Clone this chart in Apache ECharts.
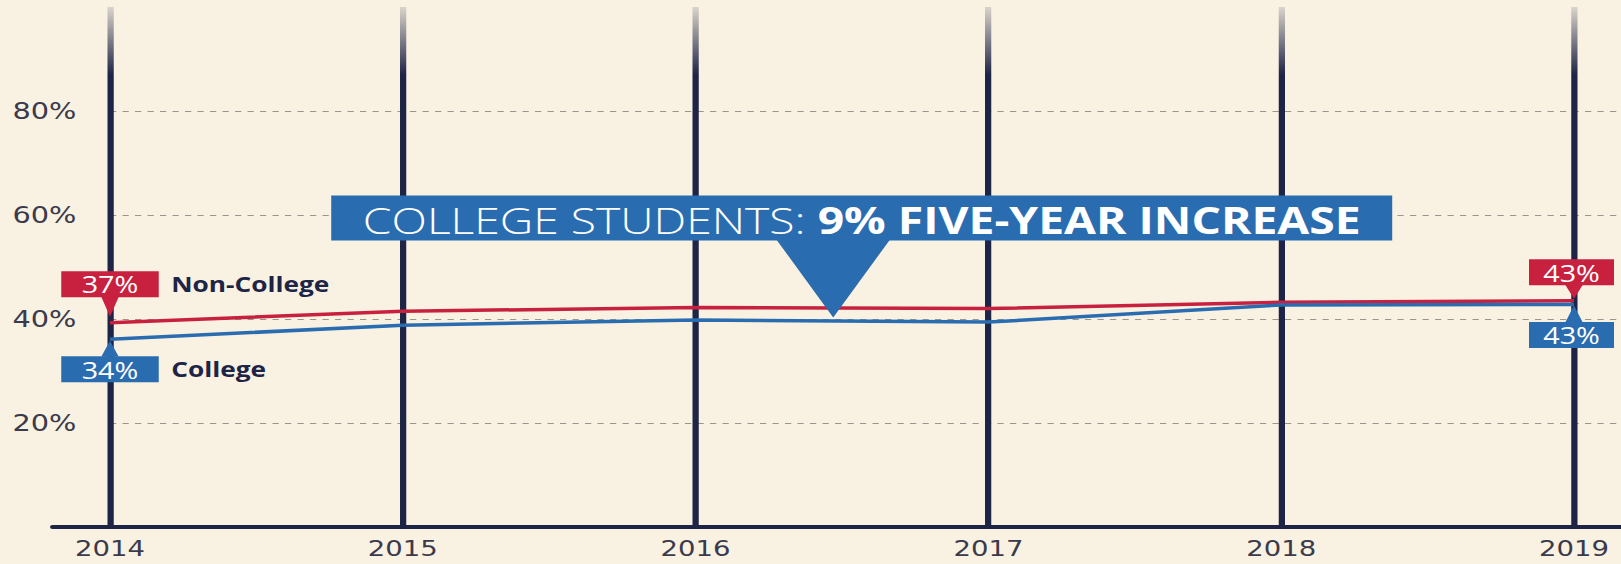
<!DOCTYPE html>
<html><head><meta charset="utf-8">
<script src="https://cdn.jsdelivr.net/npm/echarts@6/dist/echarts.min.js"></script>
<style>
html,body{margin:0;padding:0;background:#f9f1e1;overflow:hidden;}
#wrap{width:1621px;height:564px;overflow:hidden;}
#chart{width:1297px;height:564px;transform:scaleX(1.25);transform-origin:0 0;}
</style></head><body><div id="wrap"><div id="chart"></div></div>
<script>
const years = [2014, 2015, 2016, 2017, 2018, 2019];
const nonCollege = [39.3, 41.5, 42.2, 42.0, 43.2, 43.5];
const college = [36.1, 38.8, 39.8, 39.4, 42.7, 42.8];
const nonCollegeEndLabels = ['37%', '43%'];
const collegeEndLabels = ['34%', '43%'];
const seriesNames = ['Non-College', 'College'];
const yTickLabels = [20, 40, 60, 80];
const annotationLight = 'COLLEGE STUDENTS: ';
const annotationBold = '9% FIVE-YEAR INCREASE';
const annotationAt = [2016.47, 40.3];

const RED = '#c8213f', BLUE = '#2a6cb0', NAVY = '#1d2446', BG = '#f9f1e1';
const yearStep = 234.24;

function boxRich(color, w) {
  return {
    box: {backgroundColor: color, color: '#fff', width: w, height: 25, lineHeight: 25,
          align: 'center', fontSize: 23, fontFamily: 'Open Sans', padding: [1, 0, 0, 0]},
    name: {color: NAVY, fontSize: 21, fontWeight: 'bold', fontFamily: 'Open Sans', padding: [0, 0, 0, 10]}
  };
}

// pointer geometry: [height, offset] for first/last point
const pointerRed = [[20, -16], [14, -9]];
const pointerBlue = [[16, 9.5], [17, 9.5]];

function buildData(vals, endLabels, name, up) {
  const last = vals.length - 1;
  return vals.map((v, i) => {
    const item = {value: [years[i], v]};
    if (i === 0 || i === last) {
      const first = i === 0;
      const p = (up ? pointerBlue : pointerRed)[first ? 0 : 1];
      item.symbol = 'triangle';
      item.symbolSize = [14, p[0]];
      item.symbolRotate = up ? 0 : 180;
      item.symbolOffset = [0, p[1]];
      item.itemStyle = {color: up ? BLUE : RED};
      item.label = {
        show: true,
        position: up ? 'bottom' : 'top',
        distance: 0,
        formatter: first ? '{box|' + endLabels[0] + '}{name|' + name + '}' : '{box|' + endLabels[1] + '}',
        align: first ? 'left' : 'center',
        offset: first ? [-39, 0] : [-2, 0],
        rich: boxRich(up ? BLUE : RED, first ? 78 : 68)
      };
    }
    return item;
  });
}

const chart = echarts.init(document.getElementById('chart'), null, {renderer: 'svg'});
chart.setOption({
  backgroundColor: BG,
  animation: false,
  grid: [
    {left: 88, top: 7, bottom: 37, width: yearStep * 6, outerBoundsMode: 'none'},
    {left: 42, top: 7, bottom: 37, width: 1400, outerBoundsMode: 'none'}
  ],
  xAxis: [
    {gridIndex: 0, type: 'value', min: 2014, max: 2020, interval: 1,
     axisLine: {show: false}, axisTick: {show: false},
     axisLabel: {margin: 10, color: '#3a3a4c', fontSize: 22, fontFamily: 'DejaVu Sans',
       formatter: v => years.includes(v) ? String(v) : ''},
     splitLine: {show: true, lineStyle: {width: 5, color: {
       type: 'linear', x: 0, y: 8, x2: 0, y2: 75, global: true,
       colorStops: [{offset: 0, color: 'rgba(29,36,70,0.15)'}, {offset: 1, color: NAVY}]}}}},
    {gridIndex: 1, type: 'value', min: 0, max: 1,
     axisLine: {show: true, lineStyle: {color: NAVY, width: 4}},
     axisTick: {show: false}, axisLabel: {show: false}, splitLine: {show: false}}
  ],
  yAxis: [
    {gridIndex: 0, type: 'value', min: 0, max: 100, interval: 20,
     axisLine: {show: false}, axisTick: {show: false},
     axisLabel: {align: 'left', margin: 78, color: '#3a3a4c', fontSize: 23, fontFamily: 'DejaVu Sans',
       formatter: v => yTickLabels.includes(v) ? v + '%' : ''},
     splitLine: {show: true, showMinLine: false, showMaxLine: false,
       lineStyle: {color: '#9a968f', width: 1.2, type: [5, 5]}}},
    {gridIndex: 1, type: 'value', min: 0, max: 1, show: false}
  ],
  series: [
    {name: seriesNames[0], type: 'line', xAxisIndex: 0, yAxisIndex: 0, symbol: 'none',
     data: buildData(nonCollege, nonCollegeEndLabels, seriesNames[0], false),
     lineStyle: {color: RED, width: 3.5}, itemStyle: {color: RED}, z: 5},
    {name: seriesNames[1], type: 'line', xAxisIndex: 0, yAxisIndex: 0, symbol: 'none',
     data: buildData(college, collegeEndLabels, seriesNames[1], true),
     lineStyle: {color: BLUE, width: 3.5}, itemStyle: {color: BLUE}, z: 5}
  ]
});

const apex = chart.convertToPixel({gridIndex: 0}, annotationAt);
const boxL = apex[0] - 401.6, boxT = apex[1] - 122, boxW = 848.8, boxH = 45;
chart.setOption({graphic: [
  {type: 'rect', z: 100, shape: {x: boxL, y: boxT, width: boxW, height: boxH}, style: {fill: BLUE}},
  {type: 'polygon', z: 100, shape: {points: [[apex[0] - 45.5, boxT + boxH - 1], [apex[0] + 45.5, boxT + boxH - 1], [apex[0], apex[1]]]}, style: {fill: BLUE}},
  {type: 'text', z: 101, x: boxL + boxW / 2, y: boxT + boxH / 2 + 1,
   style: {text: '{l|' + annotationLight + '}{b|' + annotationBold + '}', align: 'center', verticalAlign: 'middle',
     rich: {l: {fill: '#fff', fontSize: 37, fontWeight: 300, fontFamily: 'Open Sans'},
            b: {fill: '#fff', fontSize: 37, fontWeight: 'bold', fontFamily: 'Open Sans'}}}}
]});
</script></body></html>
